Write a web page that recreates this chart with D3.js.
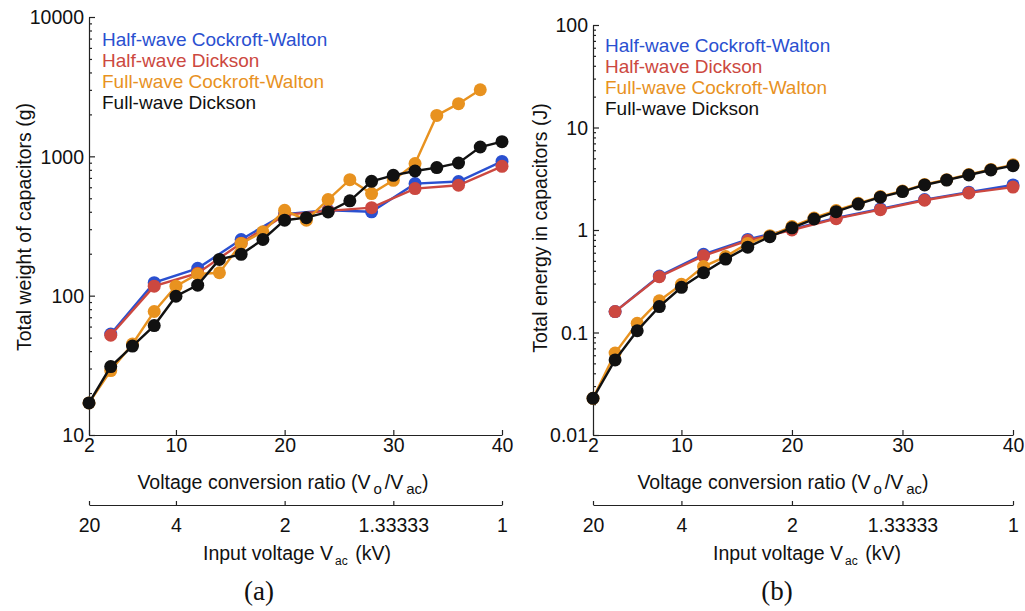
<!DOCTYPE html>
<html>
<head>
<meta charset="utf-8">
<script src="https://cdn.jsdelivr.net/npm/d3@7"></script>
<style>
  body { margin: 0; background: #fff; }
  svg text { font-family: "Liberation Sans", Arial, sans-serif; fill: #111; }
</style>
</head>
<body>
<div id="chart"></div>
<script>
// Voltage conversion ratio (x values)
const ratioFull = [2, 4, 6, 8, 10, 12, 14, 16, 18, 20, 22, 24, 26, 28, 30, 32, 34, 36, 38, 40];
const ratioHalf = [4, 8, 12, 16, 20, 24, 28, 32, 36, 40];
const ratioFullCW = [2, 4, 6, 8, 10, 12, 14, 16, 18, 20, 22, 24, 26, 28, 30, 32, 34, 36, 38];

// (a) total weight of capacitors (g)
const weightHalfCW = [53, 124, 157, 253, 385, 410, 400, 637, 660, 920];
const weightHalfDickson = [52, 117, 145, 238, 380, 406, 428, 587, 620, 848];
const weightFullCW = [17, 29, 45, 77, 117, 143, 146, 237, 287, 410, 348, 489, 680, 540, 673, 887, 1966, 2388, 3006];
const weightFullDickson = [17, 31, 43.5, 61, 99, 119, 182, 198, 253, 348, 363, 399, 479, 662, 731, 785, 830, 896, 1167, 1274];

// (b) total energy in capacitors (J)
const energyHalfCW = [0.16, 0.355, 0.58, 0.81, 1.02, 1.31, 1.61, 1.98, 2.34, 2.75];
const energyHalfDickson = [0.16, 0.35, 0.56, 0.79, 1.0, 1.29, 1.58, 1.95, 2.3, 2.62];
const energyFullCW = [0.0228, 0.063, 0.123, 0.204, 0.295, 0.44, 0.55, 0.74, 0.88, 1.08, 1.31, 1.55, 1.82, 2.12, 2.4, 2.78, 3.1, 3.48, 3.9, 4.32];
const energyFullDickson = [0.0228, 0.054, 0.104, 0.179, 0.276, 0.383, 0.52, 0.68, 0.86, 1.05, 1.28, 1.51, 1.79, 2.09, 2.37, 2.75, 3.07, 3.44, 3.85, 4.24];

// Axis ticks
const ratioTicks = [2, 10, 20, 30, 40];
const inputVoltageLabels = ['20', '4', '2', '1.33333', '1'];
const weightTicks = [10, 100, 1000, 10000];
const energyTicks = [0.01, 0.1, 1, 10, 100];

const seriesNames = ['Half-wave Cockroft-Walton', 'Half-wave Dickson', 'Full-wave Cockroft-Walton', 'Full-wave Dickson'];
const seriesColors = ['#2a50d0', '#cc4840', '#e8921f', '#111111'];

const svg = d3.select('#chart').append('svg')
  .attr('width', 1025)
  .attr('height', 611);

function drawPanel(cfg) {
  const g = svg.append('g');

  const x = d3.scaleLinear().domain([2, 40]).range([cfg.left, cfg.right]);
  const y = d3.scaleLog().domain(cfg.yDomain).range([cfg.bottom, cfg.top]);

  // y axis with log minor ticks
  const minor = [];
  const [lo, hi] = cfg.yDomain;
  for (let d = lo; d < hi; d *= 10) {
    for (let k = 2; k <= 9; k++) minor.push(d * k);
  }
  g.append('g')
    .attr('transform', `translate(${cfg.left},0)`)
    .call(d3.axisLeft(y).tickValues(minor).tickSize(-3).tickFormat(''))
    .call(a => a.select('.domain').remove());

  g.append('g')
    .attr('transform', `translate(${cfg.left},0)`)
    .call(d3.axisLeft(y).tickValues(cfg.yTicks).tickSizeInner(-6).tickSizeOuter(0)
      .tickPadding(5).tickFormat(d => cfg.yLabels[cfg.yTicks.indexOf(d)]))
    .call(a => a.selectAll('text').style('font-size', '19.5px').attr('dy', '0.35em'));

  // bottom axis: voltage conversion ratio
  g.append('g')
    .attr('transform', `translate(0,${cfg.bottom})`)
    .call(d3.axisBottom(x).tickValues(ratioTicks).tickSizeInner(-5).tickSizeOuter(0).tickPadding(3))
    .call(a => a.selectAll('text').style('font-size', '19.5px').attr('dy', '0.71em'));

  // secondary axis: input voltage
  g.append('g')
    .attr('transform', `translate(0,${cfg.bottom + 70})`)
    .call(d3.axisBottom(x).tickValues(ratioTicks).tickSizeInner(-4).tickSizeOuter(0).tickPadding(13)
      .tickFormat((d, i) => inputVoltageLabels[i]))
    .call(a => a.selectAll('text').style('font-size', '19.5px').attr('dy', '0.71em'));

  g.selectAll('.domain, .tick line').attr('stroke', '#222').attr('stroke-width', 1.2);

  const t1 = g.append('text')
    .attr('x', cfg.title1X).attr('y', cfg.bottom + 54)
    .attr('text-anchor', 'middle').style('font-size', '19.5px');
  t1.append('tspan').text('Voltage conversion ratio (V');
  t1.append('tspan').attr('dx', 3).attr('baseline-shift', '-30%').style('font-size', '15px').text('o');
  t1.append('tspan').attr('dx', 3).text('/V');
  t1.append('tspan').attr('dx', 3).attr('baseline-shift', '-30%').style('font-size', '15px').text('ac');
  t1.append('tspan').text(')');

  const t2 = g.append('text')
    .attr('x', cfg.title2X).attr('y', cfg.bottom + 125)
    .attr('text-anchor', 'middle').style('font-size', '19.5px');
  t2.append('tspan').text('Input voltage V');
  t2.append('tspan').attr('dx', 2).attr('baseline-shift', '-40%').style('font-size', '12px').text('ac');
  t2.append('tspan').attr('dx', 2).text(' (kV)');

  g.append('text')
    .attr('transform', `translate(${cfg.yTitleX},${cfg.yTitleY}) rotate(-90)`)
    .attr('text-anchor', 'middle')
    .style('font-size', '19.5px')
    .text(cfg.yTitle);

  g.append('text')
    .attr('x', cfg.captionX).attr('y', 600)
    .attr('text-anchor', 'middle')
    .style('font-family', '"Liberation Serif", "DejaVu Serif", serif')
    .style('font-size', '27px')
    .text(cfg.caption);

  // series
  const line = d3.line().x(d => x(d[0])).y(d => y(d[1]));
  cfg.series.forEach((s, i) => {
    const pts = s.xs.map((v, j) => [v, s.ys[j]]);
    const sg = g.append('g');
    sg.append('path')
      .datum(pts)
      .attr('d', line)
      .attr('fill', 'none')
      .attr('stroke', seriesColors[i])
      .attr('stroke-width', 2.4);
    sg.selectAll('circle')
      .data(pts)
      .join('circle')
      .attr('cx', d => x(d[0]))
      .attr('cy', d => y(d[1]))
      .attr('r', 6.5)
      .attr('fill', seriesColors[i]);
  });

  // legend
  seriesNames.forEach((name, i) => {
    g.append('text')
      .attr('x', cfg.legendX)
      .attr('y', cfg.legendY + i * 21)
      .attr('dy', '0.35em')
      .style('font-size', '19px')
      .style('fill', seriesColors[i])
      .text(name);
  });
}

drawPanel({
  left: 89, right: 502, top: 17, bottom: 435,
  yDomain: [10, 10000], yTicks: weightTicks, yLabels: ['10', '100', '1000', '10000'],
  yTitle: 'Total weight of capacitors (g)', yTitleX: 31, yTitleY: 227,
  title1X: 283, title2X: 297,
  caption: '(a)', captionX: 259,
  legendX: 102, legendY: 39,
  series: [
    { xs: ratioHalf, ys: weightHalfCW },
    { xs: ratioHalf, ys: weightHalfDickson },
    { xs: ratioFullCW, ys: weightFullCW },
    { xs: ratioFull, ys: weightFullDickson }
  ]
});

drawPanel({
  left: 593, right: 1013, top: 25, bottom: 435,
  yDomain: [0.01, 100], yTicks: energyTicks, yLabels: ['0.01', '0.1', '1', '10', '100'],
  yTitle: 'Total energy in capacitors (J)', yTitleX: 547, yTitleY: 228,
  title1X: 783, title2X: 807,
  caption: '(b)', captionX: 777,
  legendX: 605, legendY: 45,
  series: [
    { xs: ratioHalf, ys: energyHalfCW },
    { xs: ratioHalf, ys: energyHalfDickson },
    { xs: ratioFull, ys: energyFullCW },
    { xs: ratioFull, ys: energyFullDickson }
  ]
});
</script>
</body>
</html>
